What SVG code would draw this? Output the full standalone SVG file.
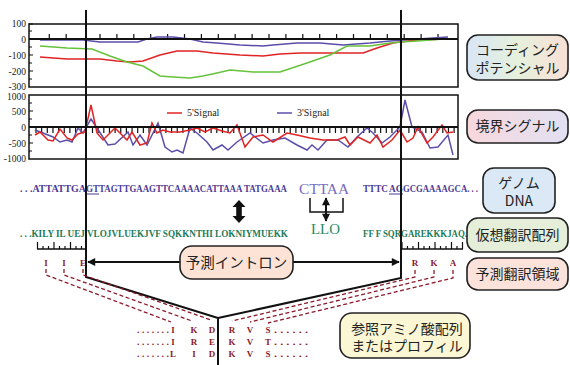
<svg xmlns="http://www.w3.org/2000/svg" width="570" height="365" viewBox="0 0 570 365">
<defs>
<style>
.ax{font-family:"Liberation Serif",serif;font-size:9.5px;fill:#222;text-anchor:end}
.frame{fill:none;stroke:#111;stroke-width:1.5}
.zero{stroke:#111;stroke-width:2}
.tk{stroke:#111;stroke-width:1.2}
.lg{font-family:"Liberation Serif",serif;font-size:10px;fill:#222}
.dna{font-family:"Liberation Serif",serif;font-weight:bold;font-size:10px;fill:#4a3a96}
.prot{font-family:"Liberation Serif",serif;font-weight:bold;font-size:10px;fill:#1e7a58}
.aa{font-family:"Liberation Serif",serif;font-weight:bold;font-size:9px;fill:#8b1a2a;text-anchor:middle}
.dots{font-family:"Liberation Serif",serif;font-weight:bold;font-size:9px;fill:#8b1a2a}
.box{stroke:#222;stroke-width:1.6}
.jp{font-family:"Noto Sans CJK JP","Noto Sans",sans-serif;font-size:14px;fill:#222;text-anchor:middle}
.dash{fill:none;stroke:#8b1a2a;stroke-width:1.3;stroke-dasharray:4,2.5}
.conn{fill:none;stroke:#111;stroke-width:2}
</style>
<linearGradient id="g1" x1="0" y1="0" x2="1" y2="0"><stop offset="0" stop-color="#d8e6f6"/><stop offset="0.5" stop-color="#e6f1dc"/><stop offset="1" stop-color="#f9dfd6"/></linearGradient>
<linearGradient id="g2" x1="0" y1="0" x2="1" y2="0"><stop offset="0" stop-color="#f7d8dc"/><stop offset="1" stop-color="#e2e0f3"/></linearGradient>
<marker id="ah" viewBox="0 0 10 10" refX="9" refY="5" markerWidth="10" markerHeight="8" markerUnits="userSpaceOnUse" orient="auto-start-reverse"><path d="M0,0 L10,5 L0,10 z" fill="#111"/></marker>
</defs>

<!-- Chart 1: coding potential -->
<g id="chart1">
<text class="ax" x="26" y="26.5">100</text>
<text class="ax" x="26" y="42.5">0</text>
<text class="ax" x="26" y="58.5">-100</text>
<text class="ax" x="26" y="74.5">-200</text>
<text class="ax" x="26" y="90">-300</text>
<path class="tk" d="M29,31h3M29,47h3M29,55h4M29,63h3M29,71h4M29,79h3M29,24h4"/>
<path class="tk" d="M49.3,39v-5M66.2,39v-5M100,39v-5M116.9,39v-5M133.8,39v-5M150.7,39v-5M167.6,39v-5M184.5,39v-5M201.4,39v-5M218.3,39v-5M235.2,39v-5M252.1,39v-5M269,39v-5M285.9,39v-5M302.8,39v-5M319.7,39v-5M336.6,39v-5M353.5,39v-5M370.4,39v-5M387.3,39v-5M404.2,39v-5M421.1,39v-5M438,39v-5"/>
<polyline fill="none" stroke="#5a4eaa" stroke-width="1.5" points="40,40 67,40 83,40 100,42 138,42 147,39 157,37 173,37 190,39 203,42 217,43 240,45 263,46 273,45 297,43 320,43 343,45 370,43 390,41 403,40 448,37"/>
<polyline fill="none" stroke="#e02424" stroke-width="1.5" points="40,57 67,59 87,59 100,59 117,61 130,62 143,61 160,55 177,51 197,51 213,53 240,55 263,56 280,54 300,53 330,53 363,53 377,48 393,43 400,42 417,40 447,39"/>
<polyline fill="none" stroke="#66c23a" stroke-width="1.5" points="40,46 67,48 92,49 110,56 127,62 143,66 160,76 173,77 190,78 203,76 217,73 230,70 253,72 280,72 307,63 330,55 347,46 370,46 390,43 400,42 417,41 443,39"/>
<line class="zero" x1="29" y1="39" x2="458" y2="39"/>
<rect class="frame" x="29" y="24" width="429" height="63"/>
</g>

<!-- Chart 2: boundary signals -->
<g id="chart2">
<text class="ax" x="26" y="99.5">1000</text>
<text class="ax" x="26" y="114.5">500</text>
<text class="ax" x="26" y="130.5">0</text>
<text class="ax" x="26" y="146.5">-500</text>
<text class="ax" x="26" y="162">-1000</text>
<path class="tk" d="M29,103h3M29,111h4M29,119h3M29,135h3M29,143h4M29,151h3"/>
<path class="tk" d="M36,127v6M41.65,127v6M47.3,127v6M52.95,127v6M58.6,127v6M64.25,127v6M69.9,127v6M75.55,127v6M81.2,127v6M92.5,127v6M98.15,127v6M103.8,127v6M109.45,127v6M115.1,127v6M120.75,127v6M126.4,127v6M132.05,127v6M137.7,127v6M143.35,127v6M149,127v6M154.65,127v6M160.3,127v6M165.95,127v6M171.6,127v6M177.25,127v6M182.9,127v6M188.55,127v6M194.2,127v6M199.85,127v6M205.5,127v6M211.15,127v6M216.8,127v6M222.45,127v6M228.1,127v6M233.75,127v6M239.4,127v6M245.05,127v6M250.7,127v6M256.35,127v6M262,127v6M267.65,127v6M273.3,127v6M278.95,127v6M284.6,127v6M290.25,127v6M295.9,127v6M301.55,127v6M307.2,127v6M312.85,127v6M318.5,127v6M324.15,127v6M329.8,127v6M335.45,127v6M341.1,127v6M346.75,127v6M352.4,127v6M358.05,127v6M363.7,127v6M369.35,127v6M375,127v6M380.65,127v6M386.3,127v6M391.95,127v6M397.6,127v6M408.9,127v6M414.55,127v6M420.2,127v6M425.85,127v6M431.5,127v6M437.15,127v6M442.8,127v6M448.45,127v6M454.1,127v6"/>
<polyline fill="none" stroke="#5a4eaa" stroke-width="1.5" points="35,130 43,133 53,137 60,142 67,140 72,142 78,128 83,133 91,119 97,128 108,145 115,144 128,132 133,145 140,135 147,145 158,123 165,147 172,152 177,150 183,153 190,128 197,133 207,142 213,150 222,145 228,150 237,142 250,133 263,143 273,140 285,138 297,145 307,150 312,145 318,150 327,140 338,140 348,147 357,137 367,128 373,133 382,143 390,137 400,127 405,100 412,127 422,132 430,148 438,147 448,135 453,155"/>
<polyline fill="none" stroke="#e02424" stroke-width="1.5" points="35,135 40,132 48,140 53,141 60,129 67,138 72,140 78,134 85,132 91,105 97,133 103,140 115,128 127,140 132,132 140,145 147,143 152,123 157,133 163,130 170,132 180,132 190,130 197,128 205,132 213,128 222,131 230,133 237,125 245,147 253,137 263,135 273,142 287,133 297,135 310,138 323,140 337,140 345,137 350,145 358,137 370,143 377,135 383,147 392,140 400,130 407,142 413,138 418,127 427,143 433,137 442,125 447,133 453,132"/>
<line class="zero" x1="29" y1="127" x2="458" y2="127"/>
<rect class="frame" x="29" y="95" width="429" height="64"/>
<line x1="167" y1="113" x2="182" y2="113" stroke="#e02424" stroke-width="1.5"/>
<text class="lg" x="187" y="116">5'Signal</text>
<line x1="277" y1="113" x2="292" y2="113" stroke="#5a4eaa" stroke-width="1.5"/>
<text class="lg" x="297" y="116">3'Signal</text>
</g>

<!-- Sequences -->
<g id="genome-seq">
<text class="dna" x="20" y="192" textLength="66" lengthAdjust="spacingAndGlyphs">. . .ATTATTGA</text>
<text class="dna" x="86" y="192" textLength="13" lengthAdjust="spacingAndGlyphs">GT</text>
<line x1="86" y1="194" x2="99" y2="194" stroke="#4a3a96" stroke-width="1"/>
<text class="dna" x="99" y="192" textLength="188" lengthAdjust="spacingAndGlyphs">TAGTTGAAGTTCAAAACATTAAA TATGAAA</text>
<text x="299" y="194" textLength="50" lengthAdjust="spacingAndGlyphs" style="font-family:'Liberation Serif',serif;font-size:14px;fill:#7a6cc0">CTTAA</text>
<text class="dna" x="363" y="192" textLength="25" lengthAdjust="spacingAndGlyphs">TTTC</text>
<text class="dna" x="389" y="192" textLength="14" lengthAdjust="spacingAndGlyphs">AG</text>
<line x1="389" y1="194" x2="403" y2="194" stroke="#4a3a96" stroke-width="1"/>
<text class="dna" x="403" y="192" textLength="75" lengthAdjust="spacingAndGlyphs">GCGAAAAGCA. . .</text>
</g>
<g id="translation-seq">
<text class="prot" x="20" y="237" textLength="268" lengthAdjust="spacingAndGlyphs">. . .KILY IL UEJ VLOJVLUEKJVF SQKKNTHI LOKNIYMUEKK</text>
<text x="311" y="234" textLength="29" lengthAdjust="spacingAndGlyphs" style="font-family:'Liberation Serif',serif;font-size:14px;fill:#2a8a62">LLO</text>
<text class="prot" x="363" y="237" textLength="104" lengthAdjust="spacingAndGlyphs">FF F SQRGAREKKKJAQ.</text>
</g>
<g id="codon-marks">
<path fill="none" stroke="#111" stroke-width="1.5" d="M310,198V212H343V198"/>
<line x1="326" y1="198" x2="326" y2="221" stroke="#111" stroke-width="2" marker-start="url(#ah)" marker-end="url(#ah)"/>
<polygon fill="#111" points="239,200 245.5,207 241.8,207 241.8,216 245.5,216 239,223 232.5,216 236.2,216 236.2,207 232.5,207"/>
</g>

<!-- Rulers and predicted residues -->
<g id="rulers">
<path fill="none" stroke="#111" stroke-width="1.5" d="M37,249H86M401,249H463"/>
<path class="tk" d="M37.5,249v-7M43,249v-3M48.5,249v-3M54,249v-7M59.5,249v-3M65,249v-3M70.5,249v-7M76,249v-3M81.5,249v-3M402,249v-7M407.5,249v-3M413,249v-3M418.5,249v-7M424,249v-3M429.5,249v-3M435,249v-7M440.5,249v-3M446,249v-3M451.5,249v-7M457,249v-3M462.5,249v-7"/>
<text class="aa" x="46" y="266">I</text>
<text class="aa" x="64" y="266">I</text>
<text class="aa" x="83" y="266">E</text>
<text class="aa" x="415" y="266">R</text>
<text class="aa" x="434" y="266">K</text>
<text class="aa" x="453" y="266">A</text>
</g>

<!-- Reference alignment -->
<g id="alignment">
<text class="dots" x="137" y="333" textLength="32" lengthAdjust="spacingAndGlyphs">. . . . . . .</text>
<text class="dots" x="137" y="345" textLength="32" lengthAdjust="spacingAndGlyphs">. . . . . . .</text>
<text class="dots" x="137" y="357" textLength="32" lengthAdjust="spacingAndGlyphs">. . . . . . .</text>
<text class="aa" x="173" y="333">I</text><text class="aa" x="194" y="333">K</text><text class="aa" x="212" y="333">D</text><text class="aa" x="232" y="333">R</text><text class="aa" x="250" y="333">V</text><text class="aa" x="268" y="333">S</text>
<text class="aa" x="173" y="345">I</text><text class="aa" x="194" y="345">R</text><text class="aa" x="212" y="345">E</text><text class="aa" x="232" y="345">K</text><text class="aa" x="250" y="345">V</text><text class="aa" x="268" y="345">T</text>
<text class="aa" x="173" y="357">L</text><text class="aa" x="194" y="357">I</text><text class="aa" x="212" y="357">D</text><text class="aa" x="232" y="357">K</text><text class="aa" x="250" y="357">V</text><text class="aa" x="268" y="357">S</text>
<text class="dots" x="274" y="333" textLength="34" lengthAdjust="spacingAndGlyphs">. . . . . .</text>
<text class="dots" x="274" y="345" textLength="34" lengthAdjust="spacingAndGlyphs">. . . . . .</text>
<text class="dots" x="274" y="357" textLength="34" lengthAdjust="spacingAndGlyphs">. . . . . .</text>
</g>

<!-- Connectors -->
<g id="connectors">
<path class="conn" d="M86,10V277L218,318V365"/>
<path class="conn" d="M401,10V278L218,318"/>
<line x1="180" y1="262" x2="88" y2="262" stroke="#111" stroke-width="2" marker-end="url(#ah)"/>
<line x1="293" y1="262" x2="399" y2="262" stroke="#111" stroke-width="2" marker-end="url(#ah)"/>
<path class="dash" d="M46,269V275L171,322"/>
<path class="dash" d="M64,269V275L192,321"/>
<path class="dash" d="M83,269V275L211,320"/>
<path class="dash" d="M415,270V277L232,321"/>
<path class="dash" d="M434,270V277L250,322"/>
<path class="dash" d="M453,270V278L268,323"/>
</g>

<!-- Label nodes -->
<g id="node-coding">
<rect class="box" x="467" y="35" width="101" height="45" rx="11" fill="url(#g1)"/>
<text class="jp" x="517.5" y="55">コーディング</text>
<text class="jp" x="517.5" y="73">ポテンシャル</text>
</g>
<g id="node-boundary">
<rect class="box" x="467" y="110" width="101" height="33" rx="11" fill="url(#g2)"/>
<text class="jp" x="517.5" y="131">境界シグナル</text>
</g>
<g id="node-genome">
<rect class="box" x="483" y="168" width="72" height="45" rx="11" fill="#dbe8f5"/>
<text class="jp" x="519" y="188">ゲノム</text>
<text class="jp" x="519" y="206">DNA</text>
</g>
<g id="node-virtual">
<rect class="box" x="467" y="218" width="101" height="34" rx="11" fill="#e4eed9"/>
<text class="jp" x="517.5" y="240">仮想翻訳配列</text>
</g>
<g id="node-predicted">
<rect class="box" x="467" y="258" width="101" height="32" rx="11" fill="#fbe2da"/>
<text class="jp" x="517.5" y="279">予測翻訳領域</text>
</g>
<g id="node-intron">
<rect class="box" x="180" y="246" width="113" height="33" rx="12" fill="#fce3d6"/>
<text class="jp" x="236.5" y="268" style="font-size:14.5px">予測イントロン</text>
</g>
<g id="node-reference">
<rect class="box" x="340" y="313" width="130" height="45" rx="12" fill="#fbf7d4"/>
<text class="jp" x="407" y="334">参照アミノ酸配列</text>
<text class="jp" x="407" y="351">またはプロフィル</text>
</g>
</svg>
